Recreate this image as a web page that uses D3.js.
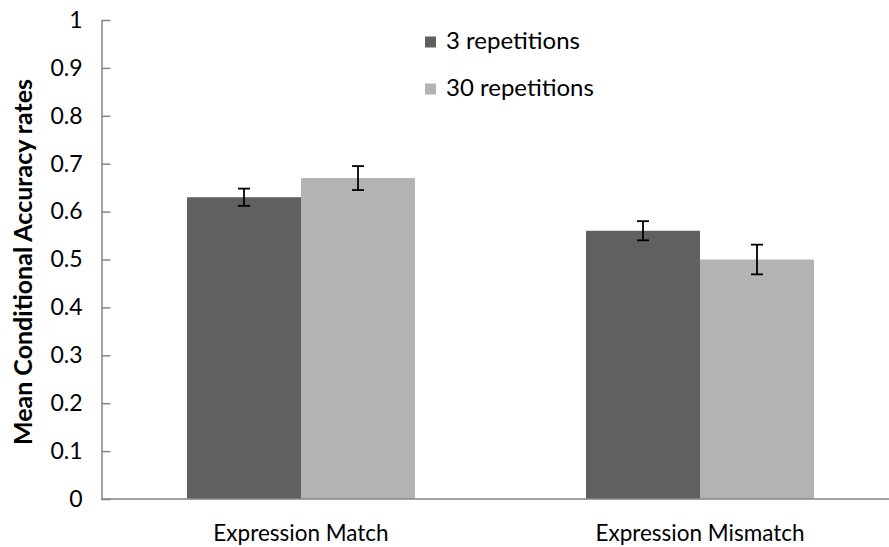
<!DOCTYPE html>
<html>
<head>
<meta charset="utf-8">
<script src="https://cdn.jsdelivr.net/npm/d3@7/dist/d3.min.js"></script>
<style>
  body { margin: 0; background: #fff; }
  svg { display: block; }
  text { font-family: Lato, "Open Sans", sans-serif; fill: #000; }
</style>
</head>
<body>
<svg id="chart" width="889" height="547"></svg>
<script>
// Mean conditional accuracy by expression condition and repetition count
const categories = ["Expression Match", "Expression Mismatch"];
const seriesNames = ["3 repetitions", "30 repetitions"];
const means3 = [0.63, 0.56];
const means30 = [0.67, 0.50];
const err3 = [0.018, 0.02];
const err30 = [0.025, 0.031];
const yTicks = [0, 0.1, 0.2, 0.3, 0.4, 0.5, 0.6, 0.7, 0.8, 0.9, 1];
const yTitle = "Mean Conditional Accuracy rates";

const colors = ["#606060", "#b3b3b3"];
const series = [
  { name: seriesNames[0], values: means3, errs: err3 },
  { name: seriesNames[1], values: means30, errs: err30 }
];

const svg = d3.select("#chart");
const plot = { left: 101.5, right: 899.5, top: 20, bottom: 499 };

const x = d3.scaleBand().domain(categories).range([plot.left, plot.right]).paddingInner(0).paddingOuter(0);
// gap between groups is 75% of the pair width
const groupW = x.bandwidth() / 1.75;
const xs = d3.scaleBand().domain(seriesNames).range([0, groupW]);
const y = d3.scaleLinear().domain([0, 1]).range([plot.bottom, plot.top]);

// bars
series.forEach((s, si) => {
  const g = svg.append("g");
  g.selectAll("rect").data(categories).join("rect")
    .attr("x", c => x(c) + (x.bandwidth() - groupW) / 2 + xs(s.name))
    .attr("y", (c, i) => y(s.values[i]))
    .attr("width", xs.bandwidth())
    .attr("height", (c, i) => y(0) - y(s.values[i]))
    .attr("fill", colors[si]);
});

// error bars
series.forEach((s, si) => {
  categories.forEach((c, i) => {
    const cx = x(c) + (x.bandwidth() - groupW) / 2 + xs(s.name) + xs.bandwidth() / 2;
    const y1 = y(s.values[i] + s.errs[i]);
    const y2 = y(s.values[i] - s.errs[i]);
    const g = svg.append("g").attr("stroke", "#000").attr("stroke-width", 1.8);
    g.append("line").attr("x1", cx).attr("x2", cx).attr("y1", y1).attr("y2", y2);
    g.append("line").attr("x1", cx - 6).attr("x2", cx + 6).attr("y1", y1).attr("y2", y1);
    g.append("line").attr("x1", cx - 6).attr("x2", cx + 6).attr("y1", y2).attr("y2", y2);
  });
});

// y axis with inward ticks
const yAxis = d3.axisLeft(y).tickValues(yTicks).tickFormat(d => d3.format("")(d)).tickSizeInner(-9).tickSizeOuter(0).tickPadding(19);
const ya = svg.append("g").attr("transform", `translate(${plot.left},0)`).call(yAxis);
ya.attr("font-size", null).attr("font-family", null);
ya.select(".domain").attr("stroke", "#868686").attr("stroke-width", 1.5);
ya.selectAll(".tick line").attr("stroke", "#868686").attr("stroke-width", 1.5);
ya.selectAll(".tick text").attr("font-size", 23).attr("fill", "#000");

// x axis baseline
svg.append("line")
  .attr("x1", plot.left).attr("x2", plot.right)
  .attr("y1", y(0)).attr("y2", y(0))
  .attr("stroke", "#868686").attr("stroke-width", 1.5);

// category labels
svg.selectAll("text.cat").data(categories).join("text")
  .attr("class", "cat")
  .attr("x", c => x(c) + x.bandwidth() / 2)
  .attr("y", 541)
  .attr("text-anchor", "middle")
  .attr("font-size", 22.5)
  .text(c => c);

// y title
svg.append("text")
  .attr("transform", `translate(32,262) rotate(-90)`)
  .attr("text-anchor", "middle")
  .attr("font-size", 25)
  .attr("font-weight", "bold")
  .text(yTitle);

// legend
const legend = svg.append("g");
seriesNames.forEach((n, i) => {
  const ly = 42 + i * 47;
  legend.append("rect").attr("x", 425).attr("y", ly - 5.5).attr("width", 11).attr("height", 11).attr("fill", colors[i]);
  legend.append("text").attr("x", 446).attr("y", ly + 7).attr("font-size", 24).text(n);
});
</script>
</body>
</html>
